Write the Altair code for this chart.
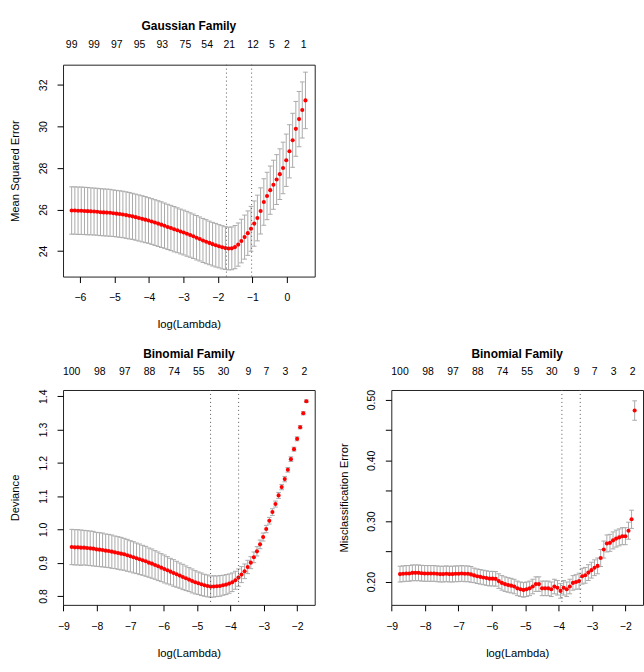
import altair as alt
import pandas as pd

FONT = "Liberation Sans"

# ---------------- Gaussian family (mean squared error) ----------------
gauss_start = -6.24          # log(lambda) of first lambda
gauss_step = 0.0929          # spacing of the log(lambda) grid
gauss_cvm = [25.95, 25.95, 25.94, 25.94, 25.93, 25.92, 25.91, 25.90, 25.89, 25.87,
             25.86, 25.85, 25.84, 25.82, 25.80, 25.78, 25.76, 25.73, 25.70, 25.67,
             25.63, 25.59, 25.55, 25.51, 25.47, 25.42, 25.37, 25.32, 25.27, 25.22,
             25.16, 25.11, 25.05, 25.00, 24.94, 24.89, 24.83, 24.77, 24.71, 24.64,
             24.58, 24.51, 24.45, 24.39, 24.33, 24.28, 24.23, 24.18, 24.14, 24.12,
             24.13, 24.19, 24.31, 24.48, 24.67, 24.86, 25.07, 25.32, 25.59, 25.93,
             26.36, 26.65, 26.93, 27.19, 27.44, 27.70, 28.00, 28.37, 28.80, 29.33,
             29.88, 30.35, 30.79, 31.25]
gauss_sd = [1.14, 1.14, 1.14, 1.14, 1.14, 1.14, 1.13, 1.13, 1.13, 1.13,
            1.13, 1.13, 1.13, 1.12, 1.12, 1.12, 1.12, 1.12, 1.12, 1.11,
            1.11, 1.11, 1.11, 1.11, 1.10, 1.10, 1.10, 1.10, 1.10, 1.09,
            1.09, 1.09, 1.09, 1.08, 1.08, 1.08, 1.08, 1.07, 1.07, 1.07,
            1.06, 1.06, 1.06, 1.05, 1.05, 1.05, 1.04, 1.04, 1.03, 1.03,
            1.03, 1.04, 1.04, 1.05, 1.06, 1.07, 1.08, 1.09, 1.10, 1.11,
            1.12, 1.14, 1.16, 1.18, 1.20, 1.22, 1.24, 1.26, 1.28, 1.30,
            1.32, 1.33, 1.35, 1.36]
gauss_lines = [-1.75, -1.02]
gauss_top_x = [-6.24, -5.59, -4.93, -4.27, -3.61, -2.94, -2.31, -1.67, -0.98, -0.43, 0.0, 0.49]
gauss_top_n = ["99", "99", "97", "95", "93", "75", "54", "21", "12", "5", "2", "1"]

# ---------------- Binomial family ----------------
binom_start = -8.75
binom_step = 0.0925
dev_cvm = [0.947, 0.946, 0.946, 0.945, 0.945, 0.944, 0.943, 0.942, 0.940, 0.939,
           0.938, 0.936, 0.935, 0.933, 0.931, 0.929, 0.927, 0.925, 0.922, 0.919,
           0.916, 0.913, 0.910, 0.907, 0.904, 0.900, 0.897, 0.893, 0.889, 0.885,
           0.881, 0.877, 0.873, 0.869, 0.865, 0.861, 0.857, 0.853, 0.849, 0.845,
           0.841, 0.838, 0.835, 0.832, 0.830, 0.828, 0.8285, 0.829, 0.830, 0.832,
           0.834, 0.837, 0.841, 0.847, 0.855, 0.864, 0.874, 0.887, 0.900, 0.916,
           0.934, 0.955, 0.977, 1.001, 1.026, 1.052, 1.076, 1.102, 1.127, 1.151,
           1.179, 1.211, 1.241, 1.272, 1.307, 1.349, 1.385]
dev_sd = [0.053, 0.053, 0.053, 0.053, 0.052, 0.052, 0.052, 0.052, 0.051, 0.051,
          0.051, 0.050, 0.050, 0.050, 0.049, 0.049, 0.049, 0.048, 0.048, 0.047,
          0.047, 0.046, 0.046, 0.045, 0.045, 0.044, 0.044, 0.043, 0.043, 0.042,
          0.042, 0.041, 0.040, 0.040, 0.039, 0.038, 0.038, 0.037, 0.036, 0.036,
          0.035, 0.034, 0.034, 0.033, 0.033, 0.032, 0.032, 0.031, 0.031, 0.030,
          0.030, 0.029, 0.028, 0.027, 0.026, 0.024, 0.022, 0.020, 0.018, 0.016,
          0.014, 0.013, 0.012, 0.011, 0.010, 0.010, 0.009, 0.009, 0.008, 0.008,
          0.007, 0.007, 0.006, 0.006, 0.005, 0.005, 0.004]
dev_lines = [-4.59, -3.75]

mis_cvm = [0.2125, 0.213, 0.2136, 0.2136, 0.2146, 0.2146, 0.2146, 0.214, 0.2136, 0.2136,
           0.2136, 0.2136, 0.213, 0.2125, 0.2125, 0.213, 0.2125, 0.2125, 0.213, 0.213,
           0.2136, 0.213, 0.213, 0.212, 0.2104, 0.209, 0.208, 0.207, 0.206, 0.205,
           0.205, 0.2046, 0.201, 0.198, 0.196, 0.1946, 0.1935, 0.192, 0.189, 0.1875,
           0.1865, 0.1875, 0.189, 0.192, 0.196, 0.196, 0.189, 0.189, 0.189, 0.1875,
           0.192, 0.190, 0.1848, 0.190, 0.1875, 0.192, 0.198, 0.1995, 0.201, 0.209,
           0.2105, 0.215, 0.219, 0.223, 0.226, 0.239, 0.253, 0.263, 0.264, 0.268,
           0.271, 0.273, 0.275, 0.275, 0.284, 0.3028, 0.482]
mis_sd = [0.013, 0.013, 0.013, 0.013, 0.013, 0.013, 0.013, 0.013, 0.013, 0.013,
          0.013, 0.013, 0.013, 0.013, 0.013, 0.013, 0.013, 0.013, 0.013, 0.013,
          0.013, 0.013, 0.013, 0.013, 0.012, 0.012, 0.012, 0.012, 0.012, 0.012,
          0.012, 0.012, 0.012, 0.012, 0.012, 0.012, 0.012, 0.012, 0.012, 0.012,
          0.012, 0.012, 0.012, 0.012, 0.012, 0.012, 0.012, 0.012, 0.012, 0.012,
          0.012, 0.012, 0.012, 0.012, 0.012, 0.012, 0.012, 0.012, 0.013, 0.013,
          0.013, 0.013, 0.013, 0.013, 0.013, 0.014, 0.014, 0.014, 0.014, 0.014,
          0.014, 0.014, 0.014, 0.014, 0.014, 0.015, 0.016]
mis_lines = [-3.90, -3.35]
binom_top_x = [-8.75, -7.91, -7.16, -6.42, -5.68, -4.94, -4.20, -3.46, -2.92, -2.35, -1.78]
binom_top_n = ["100", "98", "97", "88", "74", "55", "30", "9", "7", "3", "2"]


def make_df(start, step, cvm, sd, barw):
    rows = []
    for i, (m, s) in enumerate(zip(cvm, sd)):
        x = start + step * i
        rows.append({"x": x, "cvm": m, "lo": m - s, "hi": m + s,
                     "xl": x - barw, "xr": x + barw})
    return pd.DataFrame(rows)


def panel(df, lines, top_x, top_n, title, ytitle, xdom, ydom, xvals, yvals,
          ylabexpr, w, h, top_y, title_y):
    xs = alt.Scale(domain=xdom, nice=False, zero=False)
    ys = alt.Scale(domain=ydom, nice=False, zero=False)
    xaxis = alt.Axis(values=xvals, format="d", grid=False, domain=False,
                     tickSize=6, tickColor="black", tickWidth=1,
                     labelFont=FONT, labelFontSize=10.5, labelColor="black",
                     labelBaseline="middle", labelPadding=15.5,
                     labelFlush=False, labelOverlap=False,
                     titleFont=FONT, titleFontSize=11.3, titleFontWeight="normal",
                     titleColor="black", titleY=48.5, titleBaseline="middle")
    yaxis = alt.Axis(values=yvals, labelExpr=ylabexpr, grid=False, domain=False,
                     tickSize=6, tickColor="black", tickWidth=1,
                     labelFont=FONT, labelFontSize=10.5, labelColor="black",
                     labelAngle=270, labelAlign="center", labelBaseline="middle",
                     labelPadding=14, labelFlush=False, labelOverlap=False,
                     titleFont=FONT, titleFontSize=11.3, titleFontWeight="normal",
                     titleColor="black", titleX=-47.5, titleAngle=270,
                     titleBaseline="middle")
    X = lambda f: alt.X(f, type="quantitative", scale=xs, axis=xaxis, title="log(Lambda)")
    Y = lambda f: alt.Y(f, type="quantitative", scale=ys, axis=yaxis, title=ytitle)

    base = alt.Chart(df)
    grey = "#A9A9A9"
    bars = base.mark_rule(color=grey, strokeWidth=1).encode(x=X("x"), y=Y("lo"), y2="hi")
    cap_hi = base.mark_rule(color=grey, strokeWidth=1).encode(x=X("xl"), x2="xr", y=Y("hi"))
    cap_lo = base.mark_rule(color=grey, strokeWidth=1).encode(x=X("xl"), x2="xr", y=Y("lo"))
    pts = base.mark_circle(color="#FF0000", size=17, opacity=1).encode(x=X("x"), y=Y("cvm"))
    vl = alt.Chart(pd.DataFrame({"v": lines})).mark_rule(
        color="#555555", strokeWidth=1, strokeDash=[1, 3]).encode(x=X("v"))
    tops = alt.Chart(pd.DataFrame({"x": top_x, "n": top_n})).mark_text(
        font=FONT, fontSize=10.5, color="black", baseline="middle").encode(
        x=X("x"), y=alt.value(top_y), text="n:N")
    ttl = alt.Chart(pd.DataFrame({"t": [title]})).mark_text(
        font=FONT, fontSize=12, fontWeight="bold", color="black", baseline="middle").encode(
        x=alt.value(w / 2), y=alt.value(title_y), text="t:N")
    return alt.layer(bars, cap_hi, cap_lo, pts, vl, tops, ttl).properties(width=w, height=h)


gdf = make_df(gauss_start, gauss_step, gauss_cvm, gauss_sd, 0.068)
ddf = make_df(binom_start, binom_step, dev_cvm, dev_sd, 0.07)
mdf = make_df(binom_start, binom_step, mis_cvm, mis_sd, 0.07)

p1 = panel(gdf, gauss_lines, gauss_top_x, gauss_top_n, "Gaussian Family", "Mean Squared Error",
           [-6.49, 0.81], [22.77, 32.97], [-6, -5, -4, -3, -2, -1, 0], [24, 26, 28, 30, 32],
           "format(datum.value, 'd')", 253, 213, -19.3, -38.7)
p2 = panel(ddf, dev_lines, binom_top_x, binom_top_n, "Binomial Family", "Deviance",
           [-9.01, -1.47], [0.7731, 1.4188], [-9, -8, -7, -6, -5, -4, -3, -2],
           [0.8, 0.9, 1.0, 1.1, 1.2, 1.3, 1.4],
           "format(datum.value, '.1f')", 253, 216, -18, -35.7)
p3 = panel(mdf, mis_lines, binom_top_x, binom_top_n, "Binomial Family", "Misclassification Error",
           [-9.01, -1.47], [0.1618, 0.5159], [-9, -8, -7, -6, -5, -4, -3, -2],
           [0.20, 0.25, 0.30, 0.35, 0.40, 0.45, 0.50],
           "(round(datum.value * 100) % 10 == 0) ? format(datum.value, '.2f') : ''",
           253, 216, -18, -35.7)

bottom = alt.hconcat(p2, p3, spacing=77, bounds="flush")
chart = alt.vconcat(p1, bottom, spacing=114, bounds="flush").properties(
    padding={"left": 9.35, "top": 17.3, "right": 0, "bottom": 0},
    background="white",
).configure_view(stroke="#222222", strokeWidth=1)

chart.save("out.html", embed_options={"renderer": "svg", "actions": False})
